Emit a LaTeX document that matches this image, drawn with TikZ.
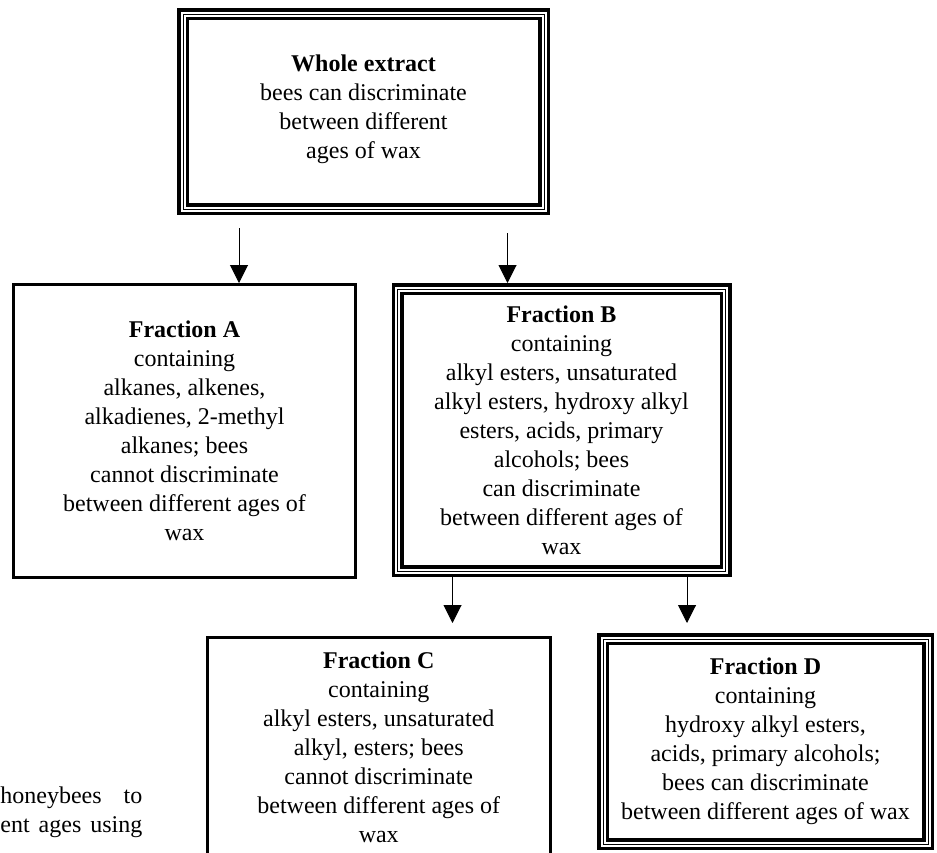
\documentclass[tikz,border=0pt]{standalone}
\usepackage{fontspec}
\setmainfont{Liberation Serif}
\usetikzlibrary{arrows.meta}

\begin{document}
\begin{tikzpicture}[x=0.5pt,y=-0.5pt,>={Triangle[width=9pt,length=9pt]},
  every node/.style={align=center,inner sep=0pt,font=\fontsize{12}{14.5}\selectfont},
  single/.style={draw,line width=1.5pt},
  triple/.style={draw,line width=0.5pt,outer sep=3pt,
    preaction={draw,line width=1.75pt,double,double distance=2.5pt}}]
\useasboundingbox (0,0) rectangle (937,852);
\clip (0,0) rectangle (937,852);

\path
(363.5,111.5) node[triple,minimum width=180.5pt,minimum height=97.5pt] (W)
  {\textbf{Whole extract}\\bees can discriminate\\between different\\ages of wax\\[-10pt]\mbox{}}
(184.5,431) node[single,minimum width=171pt,minimum height=146.5pt] (A)
  {\textbf{Fraction A}\\containing\\alkanes, alkenes,\\alkadienes, 2-methyl\\alkanes; bees\\cannot discriminate\\between different ages of\\wax}
(561.5,430) node[triple,minimum width=164pt,minimum height=141pt] (B)
  {\textbf{Fraction B}\\containing\\alkyl esters, unsaturated\\alkyl esters, hydroxy alkyl\\esters, acids, primary\\alcohols; bees\\can discriminate\\between different ages of\\wax}
(378.75,747.75) node[single,minimum width=171.75pt,minimum height=110.25pt] (C)
  {\textbf{Fraction C}\\containing\\alkyl esters, unsaturated\\alkyl, esters; bees\\cannot discriminate\\between different ages of\\wax}
(765.5,741.5) node[triple,minimum width=162.5pt,minimum height=102.5pt] (D)
  {\textbf{Fraction D}\\containing\\hydroxy alkyl esters,\\acids, primary alcohols;\\bees can discriminate\\between different ages of wax}
(0,786) node[anchor=north west,text width=71pt,align=left] (txt)
  {honeybees\hfill to\\ent\hfill ages\hfill using\\\llap{co}mpositions};

% free ends of the arrows
\coordinate (a1) at (239,228);
\coordinate (a2) at (507.5,233);
\coordinate (b1) at (452.5,623);
\coordinate (b2) at (687,623);

\draw[->,line width=0.5pt] (a1)--(a1 |- A.north);
\draw[->,line width=0.5pt] (a2)--(a2 |- B.north);
\draw[->,line width=0.5pt] (b1 |- B.south)--(b1);
\draw[->,line width=0.5pt] (b2 |- B.south)--(b2);
\end{tikzpicture}
\end{document}
